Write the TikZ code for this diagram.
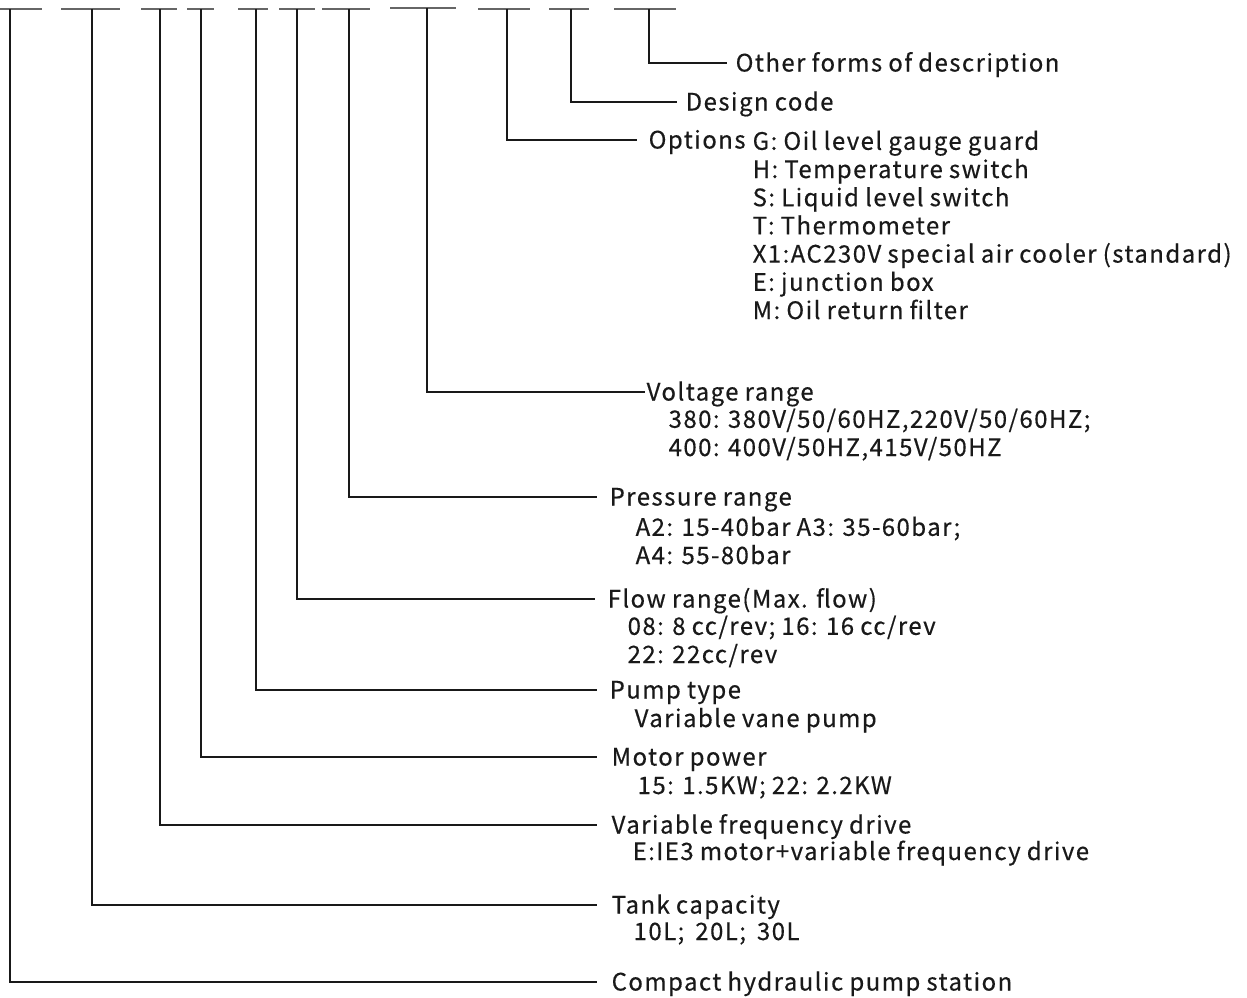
\documentclass[tikz,border=0pt]{standalone}
\usepackage{fontspec}
\setmainfont[LetterSpace=6,WordSpace=0.9,FakeBold=0.4]{Noto Sans CJK SC}
\begin{document}
\begin{tikzpicture}[x=1pt, y=-1pt, line width=1.3pt, color=black!90,
  head/.style={anchor=west, inner sep=0pt, text height=17pt, text depth=0pt, font=\fontsize{24}{28}\selectfont},
  sub/.style={anchor=base west, inner sep=0pt, align=left, font=\fontsize{24}{28.2}\selectfont},
  topbar/.style={line width=2pt, draw=black!60}]
\useasboundingbox (0,0) rectangle (1247,998);
\draw [topbar] (0,9) -- (42,9);
\draw [topbar] (61,9) -- (120,9);
\draw [topbar] (141,9) -- (177,9);
\draw [topbar] (187,9) -- (214,9);
\draw [topbar] (238,9) -- (268,9);
\draw [topbar] (279,9) -- (315,9);
\draw [topbar] (322,9) -- (370,9);
\draw [topbar] (390,8) -- (456,8);
\draw [topbar] (478,9) -- (530,9);
\draw [topbar] (549,9) -- (589,9);
\draw [topbar] (614,9) -- (676,9);
\coordinate (c1) at (10,9);
\coordinate (c2) at (92,9);
\coordinate (c3) at (160,9);
\coordinate (c4) at (201,9);
\coordinate (c5) at (256,9);
\coordinate (c6) at (297,9);
\coordinate (c7) at (349,9);
\coordinate (c8) at (427,8);
\coordinate (c9) at (507,9);
\coordinate (c10) at (571,9);
\coordinate (c11) at (649,9);
\node [head, inner xsep=8pt] (other) at (727,63) {Other forms of description};
\node [head, inner xsep=8pt] (design) at (677,102) {Design code};
\node [head, inner xsep=11pt] (opt) at (637,140) {Options};
\node [sub] (opt-d) at (752,319) {G: Oil level gauge guard\\H: Temperature switch\\S: Liquid level switch\\T: Thermometer\\X1:AC230V special air cooler (standard)\\E: junction box\\M: Oil return filter};
\node [head, inner xsep=1pt] (volt) at (645,392) {Voltage range};
\node [sub] (volt-d) at (668,456) {380: 380V/50/60HZ,220V/50/60HZ;\\400: 400V/50HZ,415V/50HZ};
\node [head, inner xsep=12pt] (press) at (597,497) {Pressure range};
\node [sub] (press-d) at (635,564) {A2: 15-40bar A3: 35-60bar;\\A4: 55-80bar};
\node [head, inner xsep=12pt] (flow) at (595,599) {Flow range(Max. flow)};
\node [sub] (flow-d) at (627,663) {08: 8 cc/rev; 16: 16 cc/rev\\22: 22cc/rev};
\node [head, inner xsep=12pt] (pump) at (597,690) {Pump type};
\node [sub] (pump-d) at (634,727) {Variable vane pump};
\node [head, inner xsep=14pt] (motor) at (597,757) {Motor power};
\node [sub] (motor-d) at (637,794) {15: 1.5KW; 22: 2.2KW};
\node [head, inner xsep=14pt] (vfd) at (597,825) {Variable frequency drive};
\node [sub] (vfd-d) at (632,860) {E:IE3 motor+variable frequency drive};
\node [head, inner xsep=14pt] (tank) at (597,905) {Tank capacity};
\node [sub] (tank-d) at (633,940) {10L;\hspace{11pt}20L;\hspace{11pt}30L};
\node [head, inner xsep=14pt] (stat) at (597,982) {Compact hydraulic pump station};
\draw (c11) |- (other);
\draw (c10) |- (design);
\draw (c9) |- (opt);
\draw (c8) |- (volt);
\draw (c7) |- (press);
\draw (c6) |- (flow);
\draw (c5) |- (pump);
\draw (c4) |- (motor);
\draw (c3) |- (vfd);
\draw (c2) |- (tank);
\draw (c1) |- (stat);
\end{tikzpicture}
\end{document}
